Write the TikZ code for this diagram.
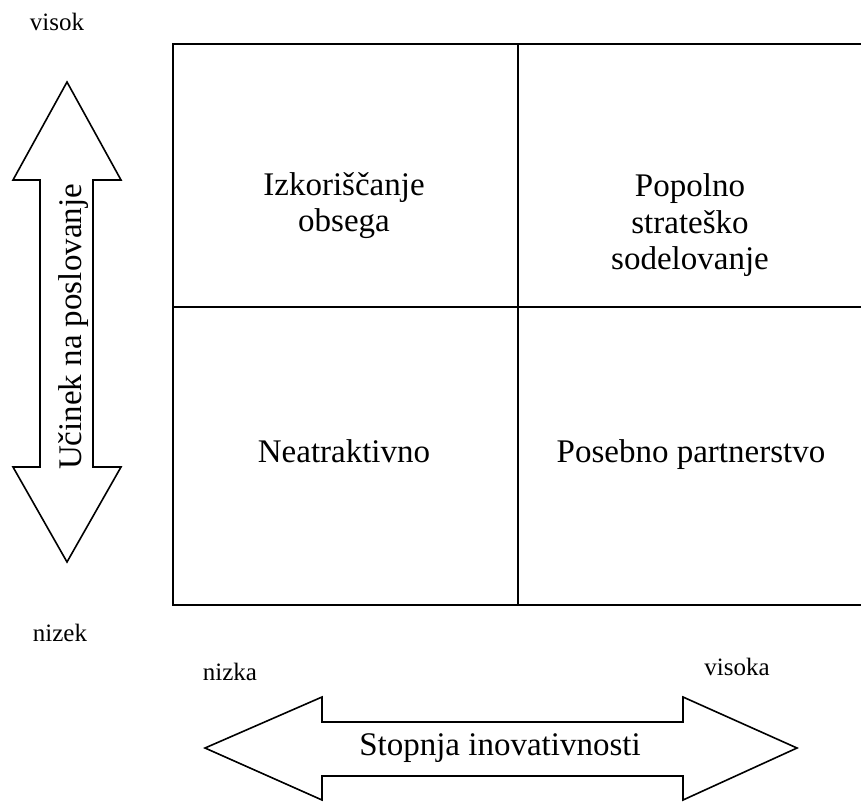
\documentclass[tikz,border=0pt]{standalone}
\usepackage{fontspec}
\setmainfont{Liberation Serif}
\begin{document}
\begin{tikzpicture}[x=1pt,y=-1pt,
  gridline/.style={line width=1.8pt, line cap=rect},
  arrowshape/.style={draw, line width=1.6pt, line join=miter, fill=white},
  celltext/.style={font=\fontsize{33}{36.5}\selectfont, align=center, inner sep=0pt},
  axislabel/.style={font=\fontsize{25}{30}\selectfont, inner sep=0pt},
  axistext/.style={font=\fontsize{33}{39}\selectfont, inner sep=0pt}]
\useasboundingbox[fill=white] (0,0) rectangle (861,803);
% grid
\coordinate (tl) at (173,44);
\coordinate (tm) at (518,44);
\coordinate (tr) at (865,44);
\coordinate (ml) at (173,307);
\coordinate (mr) at (865,307);
\coordinate (bl) at (173,605);
\coordinate (bm) at (518,605);
\coordinate (br) at (865,605);
\draw[gridline] (tr) -- (tl) -- (bl) -- (br);
\draw[gridline] (tm) -- (bm);
\draw[gridline] (ml) -- (mr);
% cells
\node[celltext] (c1) at (344,205.5) {Izkoriščanje\\obsega};
\node[celltext] (c2) at (690,225.5) {Popolno\\strateško\\sodelovanje};
\node[celltext, anchor=base] (c3) at (344,462) {Neatraktivno};
\node[celltext, anchor=base] (c4) at (691,462) {Posebno partnerstvo};
% vertical arrow
\draw[arrowshape] (67,82) -- (121,180) -- (93,180) -- (93,467) -- (121,467)
  -- (67,562) -- (13,467) -- (40,467) -- (40,180) -- (13,180) -- cycle;
\node[axistext, rotate=90] (va) at (74,327) {Učinek na poslovanje};
% horizontal arrow
\draw[arrowshape] (205,748) -- (322,697) -- (322,722) -- (683,722) -- (683,697)
  -- (797,748) -- (683,800) -- (683,776) -- (322,776) -- (322,800) -- cycle;
\node[axistext] (ha) at (500,748) {Stopnja inovativnosti};
% labels
\node[axislabel] (visok) at (57,22) {visok};
\node[axislabel] (nizek) at (60,633) {nizek};
\node[axislabel] (nizka) at (230,672) {nizka};
\node[axislabel] (visoka) at (737,667) {visoka};
\end{tikzpicture}
\end{document}
